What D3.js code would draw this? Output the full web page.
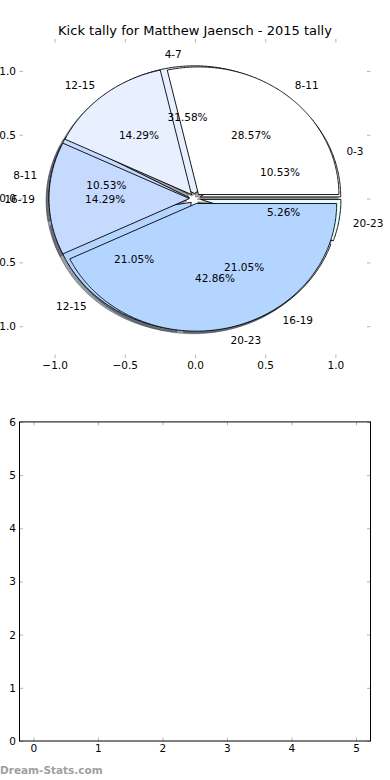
<!DOCTYPE html>
<html>
<head>
<meta charset="utf-8">
<script src="https://cdn.jsdelivr.net/npm/d3@7"></script>
<style>
  body { margin: 0; background: #fff; }
  svg { display: block; font-family: "DejaVu Sans", sans-serif; }
</style>
</head>
<body>
<div id="chart"></div>
<script>
(function () {
  // data
  const categoriesA = ['0-3', '4-7', '8-11', '12-15', '16-19', '20-23'];
  const tallyA = [2, 6, 2, 4, 4, 1];
  const categoriesB = ['8-11', '12-15', '16-19', '20-23'];
  const tallyB = [2, 1, 1, 3];
  const pieTicks = [-1.0, -0.5, 0.0, 0.5, 1.0];
  const lowerXTicks = [0, 1, 2, 3, 4, 5];
  const lowerYTicks = [0, 1, 2, 3, 4, 5, 6];

  const sliceColors = ['#ffffff', '#e8f0ff', '#c6d9ff', '#b3d5ff', '#cfe3ff', '#e0ffff'];

  const WIDTH = 390, HEIGHT = 780;
  const LEFT = 19.5, RIGHT = 370.5;
  const TOP1 = 39, BOT1 = 358.1, TOP2 = 421.9, BOT2 = 741;
  const TICK = 3.5, PAD = 3.5;
  const EXPLODE = 0.04, SHADOW = -0.02;
  const FONT = 10.5;

  const svg = d3.select('#chart').append('svg')
    .attr('width', WIDTH)
    .attr('height', HEIGHT);

  // ---------- top: the two pies ----------
  const x1 = d3.scaleLinear().domain([-1.25, 1.25]).range([LEFT, RIGHT]);
  const y1 = d3.scaleLinear().domain([-1.25, 1.25]).range([BOT1, TOP1]);

  const layout = (values, labels) => {
    const total = d3.sum(values);
    const arcs = d3.pie().sort(null).startAngle(0).endAngle(2 * Math.PI)(values);
    return arcs.map((a, i) => {
      const tm = (a.startAngle + a.endAngle) / 2;
      return {
        label: labels[i],
        pct: (100 * a.value / total).toFixed(2) + '%',
        t0: a.startAngle,
        t1: a.endAngle,
        tm: tm,
        cx: EXPLODE * Math.cos(tm),
        cy: EXPLODE * Math.sin(tm),
        color: sliceColors[i]
      };
    });
  };

  const wedgesA = layout(tallyA, categoriesA);
  const wedgesB = layout(tallyB, categoriesB);

  const line = d3.line().x(p => x1(p[0])).y(p => y1(p[1]));
  const wedgePath = (w, dx, dy) => {
    const n = Math.max(4, Math.ceil((w.t1 - w.t0) / 0.01));
    const pts = [[w.cx + dx, w.cy + dy]].concat(d3.range(n + 1).map(k => {
      const t = w.t0 + (w.t1 - w.t0) * k / n;
      return [w.cx + dx + Math.cos(t), w.cy + dy + Math.sin(t)];
    }));
    return line(pts) + 'Z';
  };
  const shadowColor = c => {
    const r = d3.rgb(c);
    return d3.rgb(r.r * 0.3, r.g * 0.3, r.b * 0.3).toString();
  };

  const pieG = svg.append('g');
  const allWedges = wedgesA.concat(wedgesB);

  // shadows go under every wedge
  pieG.selectAll('.shadow')
    .data(allWedges)
    .enter()
    .append('path')
    .attr('class', 'shadow')
    .attr('d', w => wedgePath(w, SHADOW, SHADOW))
    .style('fill', w => shadowColor(w.color))
    .style('fill-opacity', 0.5)
    .style('stroke', w => shadowColor(w.color))
    .style('stroke-opacity', 0.5)
    .style('stroke-width', 0.9);

  pieG.selectAll('.wedge')
    .data(allWedges)
    .enter()
    .append('path')
    .attr('class', 'wedge')
    .attr('d', w => wedgePath(w, 0, 0))
    .style('fill', w => w.color)
    .style('stroke', '#000')
    .style('stroke-width', 0.9)
    .style('stroke-linejoin', 'round');

  const textG = svg.append('g')
    .style('font-size', FONT + 'px')
    .style('fill', '#000');

  [wedgesA, wedgesB].forEach(ws => {
    ws.forEach(w => {
      const lx = w.cx + 1.1 * Math.cos(w.tm);
      const ly = w.cy + 1.1 * Math.sin(w.tm);
      textG.append('text')
        .attr('x', x1(lx))
        .attr('y', y1(ly))
        .attr('dominant-baseline', 'central')
        .attr('text-anchor', lx > 0 ? 'start' : 'end')
        .text(w.label);
    });
    ws.forEach(w => {
      const px = w.cx + 0.6 * Math.cos(w.tm);
      const py = w.cy + 0.6 * Math.sin(w.tm);
      textG.append('text')
        .attr('x', x1(px))
        .attr('y', y1(py))
        .attr('dominant-baseline', 'central')
        .attr('text-anchor', 'middle')
        .text(w.pct);
    });
  });

  // axes of the pie: ticks only, no frame
  const styleAxis = g => {
    g.attr('font-size', null).attr('font-family', null);
    g.selectAll('.tick line').style('stroke', '#b4b4b4').style('stroke-width', 1);
    g.selectAll('.tick text').style('font-size', FONT + 'px').style('fill', '#000');
  };
  const fmt1 = d3.format('.1f');

  svg.append('g')
    .attr('transform', `translate(0, ${BOT1})`)
    .call(d3.axisBottom(x1).tickValues(pieTicks).tickFormat(fmt1)
      .tickSizeInner(-TICK).tickSizeOuter(0).tickPadding(PAD))
    .call(styleAxis)
    .call(g => g.select('.domain').remove());
  svg.append('g')
    .attr('transform', `translate(0, ${TOP1})`)
    .call(d3.axisTop(x1).tickValues(pieTicks).tickFormat('')
      .tickSizeInner(-TICK).tickSizeOuter(0))
    .call(styleAxis)
    .call(g => g.select('.domain').remove());
  svg.append('g')
    .attr('transform', `translate(${LEFT}, 0)`)
    .call(d3.axisLeft(y1).tickValues(pieTicks).tickFormat(fmt1)
      .tickSizeInner(-TICK).tickSizeOuter(0).tickPadding(PAD))
    .call(styleAxis)
    .call(g => g.select('.domain').remove());
  svg.append('g')
    .attr('transform', `translate(${RIGHT}, 0)`)
    .call(d3.axisRight(y1).tickValues(pieTicks).tickFormat('')
      .tickSizeInner(-TICK).tickSizeOuter(0))
    .call(styleAxis)
    .call(g => g.select('.domain').remove());

  svg.append('text')
    .attr('x', (LEFT + RIGHT) / 2)
    .attr('y', 30)
    .attr('text-anchor', 'middle')
    .attr('dominant-baseline', 'central')
    .style('font-size', '13px')
    .text('Kick tally for Matthew Jaensch - 2015 tally');

  // ---------- bottom: empty axes ----------
  const x2 = d3.scaleLinear().domain([-0.215, 5.225]).range([LEFT, RIGHT]);
  const y2 = d3.scaleLinear().domain([0, 6]).range([BOT2, TOP2]);

  svg.append('g')
    .attr('transform', `translate(0, ${BOT2})`)
    .call(d3.axisBottom(x2).tickValues(lowerXTicks).tickFormat(d3.format('d'))
      .tickSizeInner(-TICK).tickSizeOuter(0).tickPadding(PAD))
    .call(styleAxis)
    .call(g => g.select('.domain').remove());
  svg.append('g')
    .attr('transform', `translate(0, ${TOP2})`)
    .call(d3.axisTop(x2).tickValues(lowerXTicks).tickFormat('')
      .tickSizeInner(-TICK).tickSizeOuter(0))
    .call(styleAxis)
    .call(g => g.select('.domain').remove());
  svg.append('g')
    .attr('transform', `translate(${LEFT}, 0)`)
    .call(d3.axisLeft(y2).tickValues(lowerYTicks).tickFormat(d3.format('d'))
      .tickSizeInner(-TICK).tickSizeOuter(0).tickPadding(PAD))
    .call(styleAxis)
    .call(g => g.select('.domain').remove());
  svg.append('g')
    .attr('transform', `translate(${RIGHT}, 0)`)
    .call(d3.axisRight(y2).tickValues(lowerYTicks).tickFormat('')
      .tickSizeInner(-TICK).tickSizeOuter(0))
    .call(styleAxis)
    .call(g => g.select('.domain').remove());

  svg.append('rect')
    .attr('x', LEFT)
    .attr('y', TOP2)
    .attr('width', RIGHT - LEFT)
    .attr('height', BOT2 - TOP2)
    .style('fill', 'none')
    .style('stroke', '#000')
    .style('stroke-width', 1);

  // watermark
  svg.append('text')
    .attr('x', 0)
    .attr('y', 770)
    .attr('dominant-baseline', 'central')
    .style('font-size', '10.5px')
    .style('font-weight', 'bold')
    .style('fill', '#a0a0a0')
    .text('Dream-Stats.com');
})()
</script>
</body>
</html>
